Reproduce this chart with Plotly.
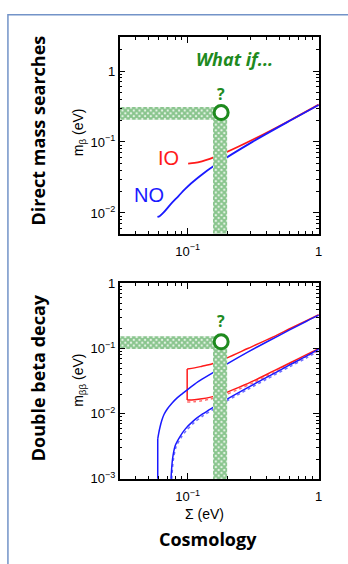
import plotly.graph_objects as go

# ---------------- data ----------------
# Top panel: effective electron-neutrino mass m_beta vs Sigma
top_no_sigma = [0.0587, 0.0609, 0.0652, 0.0742, 0.0850, 0.0957, 0.1195, 0.1715, 0.312, 0.6064, 1.0]
top_no_mbeta = [0.0088, 0.0090, 0.0101, 0.0133, 0.0173, 0.0219, 0.0313, 0.0508, 0.1004, 0.2002, 0.332]
top_io_sigma = [0.1007, 0.1127, 0.1284, 0.1473, 0.192, 0.324, 0.6126, 1.0]
top_io_mbeta = [0.0497, 0.0507, 0.0535, 0.0579, 0.0702, 0.1108, 0.2041, 0.336]

# Bottom panel: m_beta-beta bands
no_up_sigma = [0.059, 0.059, 0.0600, 0.0615, 0.0635, 0.0660, 0.070, 0.076, 0.083, 0.091, 0.098, 0.12, 0.156, 0.2, 0.287, 0.4, 0.6, 0.8, 1.0]
no_up_mbb = [0.001, 0.0041, 0.0050, 0.0063, 0.0080, 0.0098, 0.0119, 0.0146, 0.0175, 0.0203, 0.0228, 0.031, 0.0428, 0.058, 0.088, 0.126, 0.193, 0.26, 0.325]
no_lo_sigma = [0.0745, 0.0765, 0.0803, 0.0875, 0.0956, 0.11, 0.13, 0.152, 0.2, 0.287, 0.4, 0.6, 0.8, 1.0]
no_lo_mbb = [0.001, 0.002, 0.00325, 0.0045, 0.0058, 0.0077, 0.0099, 0.0121, 0.0168, 0.0252, 0.036, 0.056, 0.076, 0.098]
no_lo_dot_sigma = [0.0755, 0.0775, 0.0815, 0.089, 0.0975, 0.112, 0.132, 0.155, 0.2, 0.287, 0.4, 0.6, 0.8, 1.0]
no_lo_dot_mbb = [0.001, 0.0019, 0.0031, 0.0043, 0.0055, 0.0073, 0.0094, 0.0115, 0.0158, 0.0236, 0.0338, 0.0525, 0.071, 0.092]
io_up_sigma = [0.099, 0.1127, 0.1284, 0.1473, 0.156, 0.2, 0.287, 0.45, 0.6126, 0.8, 1.0]
io_up_mbb = [0.0485, 0.0505, 0.0535, 0.057, 0.0589, 0.072, 0.100, 0.151, 0.205, 0.265, 0.33]
io_lo_sigma = [0.099, 0.1127, 0.1284, 0.1473, 0.192, 0.25, 0.324, 0.45, 0.6126, 0.8, 1.0]
io_lo_mbb = [0.0162, 0.0164, 0.0169, 0.0178, 0.0207, 0.0258, 0.0325, 0.045, 0.061, 0.080, 0.100]
io_lo_dot_sigma = [0.099, 0.1127, 0.1284, 0.1473, 0.192, 0.25, 0.324, 0.45, 0.6126, 0.8, 1.0]
io_lo_dot_mbb = [0.0151, 0.0153, 0.0158, 0.0167, 0.0194, 0.0242, 0.0305, 0.0422, 0.0573, 0.075, 0.094]
io_vert_sigma = [0.099, 0.099]
io_vert_mbb = [0.0162, 0.0485]

# Cosmology "what if" bands and hypothetical measurement
band_sigma = [0.156, 0.2]
top_band_mbeta = [0.205, 0.31]
bot_band_mbb = [0.098, 0.154]
top_point = (0.18, 0.26)
bot_point = (0.18, 0.127)

x_range = [0.0302, 1.0]
top_y_range = [0.0051, 3.0]
bot_y_range = [0.001, 1.0]

RED = "#ff1a1a"
BLUE = "#1a1aff"
GREEN = "#1e8a1e"
FONT = "Liberation Sans"

# ---------------- figure ----------------
W, H = 348, 564
fig = go.Figure()


def px(x):
    return x / W


def py(y):
    return 1 - y / H


def line(xs, ys, color, xa, ya, dash="solid", width=1.8, shape="linear"):
    fig.add_trace(go.Scatter(x=xs, y=ys, mode="lines", xaxis=xa, yaxis=ya,
                             line=dict(color=color, width=width, dash=dash, shape=shape, smoothing=0.8),
                             hoverinfo="skip", showlegend=False))


def band(yband, ymin, xa, ya):
    xl, xr = band_sigma
    y0, y1 = yband
    xs = [x_range[0] * 0.98, xr, xr, xl, xl, x_range[0] * 0.98, x_range[0] * 0.98]
    ys = [y1, y1, ymin, ymin, y0, y0, y1]
    fig.add_trace(go.Scatter(x=xs, y=ys, mode="lines", fill="toself", xaxis=xa, yaxis=ya,
                             line=dict(width=0, color="rgba(0,0,0,0)"),
                             fillcolor="#6fbf6f",
                             fillpattern=dict(shape="x", fgcolor="#22902a", bgcolor="#eef8ee",
                                              size=4, solidity=0.75),
                             hoverinfo="skip", showlegend=False))


def point(pt, xa, ya):
    fig.add_trace(go.Scatter(x=[pt[0]], y=[pt[1]], mode="markers", xaxis=xa, yaxis=ya,
                             marker=dict(size=14, color="white", line=dict(color=GREEN, width=3)),
                             hoverinfo="skip", showlegend=False))


# top panel
line(top_io_sigma, top_io_mbeta, RED, "x", "y", shape="spline")
line(top_no_sigma, top_no_mbeta, BLUE, "x", "y", shape="spline")
band(top_band_mbeta, top_y_range[0] * 0.9, "x", "y")
point(top_point, "x", "y")

# bottom panel
line(io_lo_dot_sigma, io_lo_dot_mbb, "#ff7070", "x2", "y2", dash="dot", width=1.5, shape="spline")
line(no_lo_dot_sigma, no_lo_dot_mbb, "#7070ff", "x2", "y2", dash="dot", width=1.5, shape="spline")
line(io_up_sigma, io_up_mbb, RED, "x2", "y2", width=1.5, shape="spline")
line(io_lo_sigma, io_lo_mbb, RED, "x2", "y2", width=1.5, shape="spline")
line(io_vert_sigma, io_vert_mbb, RED, "x2", "y2", width=1.5)
line(no_up_sigma[:2], no_up_mbb[:2], BLUE, "x2", "y2", width=1.5)
line(no_up_sigma[1:], no_up_mbb[1:], BLUE, "x2", "y2", width=1.5, shape="spline")
line(no_lo_sigma, no_lo_mbb, BLUE, "x2", "y2", width=1.5, shape="spline")
band(bot_band_mbb, bot_y_range[0] * 0.9, "x2", "y2")
point(bot_point, "x2", "y2")

sup = lambda e: "10<sup>\u2212%d</sup>" % e

# minor tick positions (2..9 within each decade) - purely axis styling
minor_vals = [m * 10.0 ** k for k in range(-4, 1) for m in range(2, 10)]

axis_common = dict(type="log", showgrid=False, zeroline=False, showline=True, linecolor="black",
                   linewidth=1.5, mirror="allticks", ticks="inside", ticklen=6, tickwidth=1,
                   tickcolor="black", tickfont=dict(family=FONT, size=13, color="black"),
                   minor=dict(ticks="inside", ticklen=3, tickwidth=1, tickcolor="black",
                              showgrid=False, tickvals=minor_vals))

x_dom = [px(120.7), px(321.7)]
fig.update_layout(
    width=W, height=H, margin=dict(l=0, r=0, t=0, b=0),
    paper_bgcolor="white", plot_bgcolor="white",
    xaxis=dict(axis_common, domain=x_dom, anchor="y",
               range=[-1.52, 0.002], tickvals=[0.1, 1], ticktext=[sup(1), "1"], ticklabelstandoff=5),
    yaxis=dict(axis_common, domain=[py(232.3), py(30.7)], anchor="x",
               range=[-2.29, 0.48], tickvals=[0.01, 0.1, 1], ticktext=[sup(2), sup(1), "1"]),
    xaxis2=dict(axis_common, domain=x_dom, anchor="y2",
                range=[-1.52, 0.002], tickvals=[0.1, 1], ticktext=[sup(1), "1"], ticklabelstandoff=5),
    yaxis2=dict(axis_common, domain=[py(484), py(283.3)], anchor="x2",
                range=[-3.002, 0.002], tickvals=[0.001, 0.01, 0.1, 1],
                ticktext=[sup(3), sup(2), sup(1), "1"]),
)

ann = []


def text(x, y, s, size, color="black", family=FONT, angle=0, xanchor="center"):
    ann.append(dict(x=px(x), y=py(y), xref="paper", yref="paper", text=s, showarrow=False,
                    textangle=angle, xanchor=xanchor, yanchor="middle",
                    font=dict(family=family, size=size, color=color)))


BIG = "Open Sans"
text(38, 127, "<b>Direct mass searches</b>", 18, family=BIG, angle=-90)
text(38, 380, "<b>Double beta decay</b>", 18, family=BIG, angle=-90)
text(210, 546, "<b>Cosmology</b>", 18, family=BIG)
text(80, 128, "m<sub>\u03b2</sub> (eV)", 14, angle=-90)
text(80, 383, "m<sub>\u03b2\u03b2</sub> (eV)", 14, angle=-90)
text(206, 520, "\u03a3 (eV)", 14)
text(237, 53, "<b><i>What if...</i></b>", 18, color=GREEN, family=BIG)
text(223, 89, "<b>?</b>", 16, color=GREEN, family=BIG)
text(223, 322, "<b>?</b>", 16, color=GREEN, family=BIG)
text(170, 155, "IO", 20, color=RED)
text(150, 193, "NO", 20, color=BLUE)
fig.update_layout(annotations=ann)

# outer light-blue frame (cut off at the right and bottom)
fig.add_shape(type="path", xref="paper", yref="paper",
              path="M %f,%f L %f,%f L %f,%f" % (px(8), -0.05, px(8), py(8), 1.05, py(8)),
              line=dict(color="#7393c8", width=1.5))

fig.write_html(
    "out.html",
    config={"displayModeBar": False},
    post_script=("document.body.style.margin='0';"
                 "document.body.style.overflow='hidden';"
                 "document.documentElement.style.overflow='hidden';"),
)
